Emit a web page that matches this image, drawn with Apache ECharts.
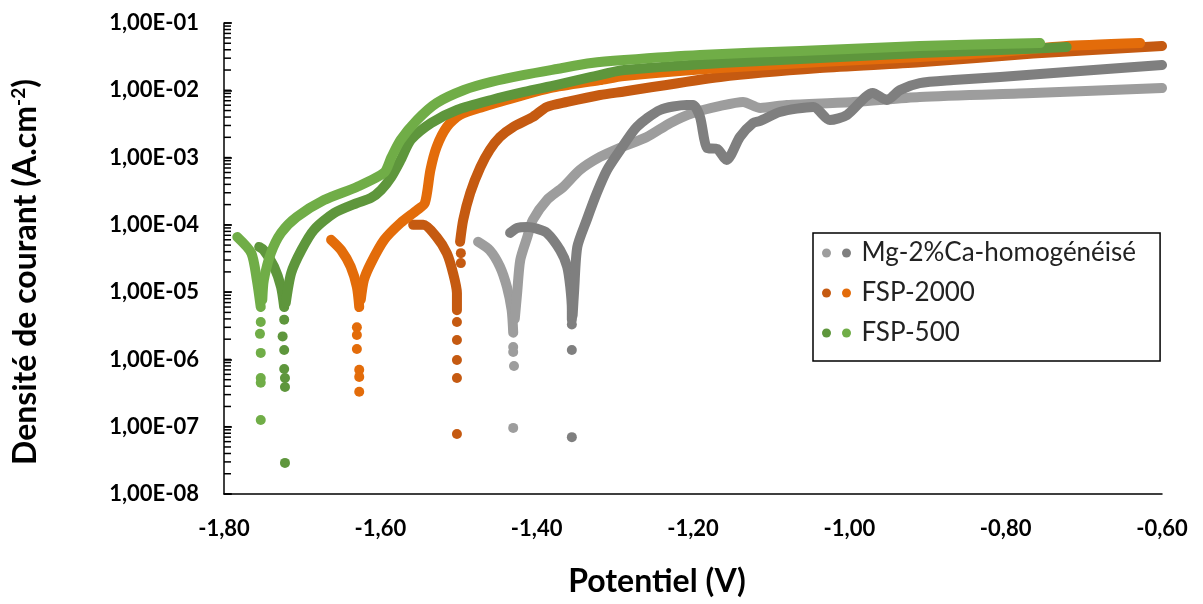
<!DOCTYPE html>
<html><head><meta charset="utf-8">
<script src="https://cdn.jsdelivr.net/npm/echarts@6/dist/echarts.min.js"></script>
<style>html,body{margin:0;padding:0;background:#fff}#c{width:1203px;height:604px}</style>
</head><body><div id="c"></div>
<script>
// ---- tick labels ----
const xTickLabels = ['-1,80','-1,60','-1,40','-1,20','-1,00','-0,80','-0,60'];
const yTickLabels = ['1,00E-08','1,00E-07','1,00E-06','1,00E-05','1,00E-04','1,00E-03','1,00E-02','1,00E-01'];
const legendLabels = ['Mg-2%Ca-homogénéisé','FSP-2000','FSP-500'];
const xTitle = 'Potentiel (V)';
const yTitle = 'Densité de courant (A.cm';
const yTitleSup = '-2';

// ---- Mg-2%Ca-homogénéisé, light grey ----
const mgLightCathodic = [[-1.475,5.6e-5],[-1.460,4.2e-5],[-1.447,2.4e-5],[-1.438,1.19e-5],[-1.432,5.4e-6],[-1.430,2.5e-6]];
const mgLightAnodic = [[-1.428,4.0e-6],[-1.425,9.7e-6],[-1.421,3.0e-5],[-1.412,6.6e-5],[-1.405,1.18e-4],[-1.387,2.34e-4],[-1.366,3.66e-4],[-1.345,6.5e-4],[-1.319,1.02e-3],[-1.293,1.40e-3],[-1.259,2.02e-3],[-1.229,3.27e-3],[-1.200,4.60e-3],[-1.165,5.85e-3],[-1.136,6.70e-3],[-1.114,5.46e-3],[-1.080,6.05e-3],[-0.995,6.70e-3],[-0.910,7.95e-3],[-0.765,9.12e-3],[-0.600,1.08e-2]];
const mgLightDots = [[-1.430,1.53e-6],[-1.430,1.29e-6],[-1.429,8.0e-7],[-1.430,9.6e-8]];
// ---- Mg-2%Ca-homogénéisé, dark grey ----
const mgDarkCathodic = [[-1.434,7.6e-5],[-1.425,9.0e-5],[-1.412,9.3e-5],[-1.400,8.8e-5],[-1.387,7.6e-5],[-1.370,4.2e-5],[-1.361,2.4e-5],[-1.357,1.19e-5],[-1.355,5.4e-6],[-1.355,3.9e-6]];
const mgDarkAnodic = [[-1.354,4.5e-6],[-1.352,1.08e-5],[-1.348,4.7e-5],[-1.336,1.18e-4],[-1.323,2.98e-4],[-1.310,6.5e-4],[-1.293,1.30e-3],[-1.272,2.85e-3],[-1.242,5.10e-3],[-1.208,6.05e-3],[-1.200,6.05e-3],[-1.191,4.01e-3],[-1.182,1.39e-3],[-1.169,1.34e-3],[-1.157,9.2e-4],[-1.140,2.02e-3],[-1.123,3.27e-3],[-1.114,3.5e-3],[-1.089,4.76e-3],[-1.046,5.65e-3],[-1.025,3.62e-3],[-1.003,4.30e-3],[-0.970,9.12e-3],[-0.952,7.18e-3],[-0.935,1.01e-2],[-0.910,1.28e-2],[-0.867,1.42e-2],[-0.807,1.58e-2],[-0.722,1.87e-2],[-0.600,2.38e-2]];
const mgDarkDots = [[-1.355,3.3e-6],[-1.355,1.38e-6],[-1.355,7.0e-8]];
// ---- FSP-2000, dark orange ----
const fsp2000DarkCathodic = [[-1.558,1.0e-4],[-1.545,1.0e-4],[-1.528,6.6e-5],[-1.515,3.8e-5],[-1.507,1.93e-5],[-1.502,9.7e-6],[-1.502,5.4e-6]];
const fsp2000DarkAnodic = [[-1.498,5.6e-5],[-1.494,1.18e-4],[-1.485,2.98e-4],[-1.472,7.2e-4],[-1.460,1.30e-3],[-1.447,2.02e-3],[-1.430,2.85e-3],[-1.405,4.01e-3],[-1.387,5.65e-3],[-1.361,6.70e-3],[-1.319,8.5e-3],[-1.288,9.6e-3],[-1.165,1.58e-2],[-1.038,2.14e-2],[-0.910,2.6e-2],[-0.765,3.52e-2],[-0.600,4.55e-2]];
const fsp2000DarkDots = [[-1.497,3.8e-5],[-1.497,2.7e-5],[-1.502,3.6e-6],[-1.502,1.95e-6],[-1.502,9.8e-7],[-1.502,5.3e-7],[-1.502,7.8e-8]];
// ---- FSP-2000, light orange ----
const fsp2000LightCathodic = [[-1.663,6.0e-5],[-1.650,4.2e-5],[-1.638,2.4e-5],[-1.630,1.19e-5],[-1.627,6.0e-6]];
const fsp2000LightAnodic = [[-1.625,7.7e-6],[-1.621,1.52e-5],[-1.612,2.7e-5],[-1.595,6.0e-5],[-1.574,1.07e-4],[-1.553,1.66e-4],[-1.543,2.11e-4],[-1.536,6.5e-4],[-1.528,1.44e-3],[-1.515,2.85e-3],[-1.498,4.30e-3],[-1.469,5.65e-3],[-1.425,7.95e-3],[-1.383,1.08e-2],[-1.319,1.42e-2],[-1.288,1.63e-2],[-1.165,2.14e-2],[-1.038,2.63e-2],[-0.910,3.13e-2],[-0.807,3.71e-2],[-0.722,4.55e-2],[-0.628,5.04e-2]];
const fsp2000LightDots = [[-1.630,3.0e-6],[-1.630,2.3e-6],[-1.630,1.43e-6],[-1.627,7.0e-7],[-1.627,5.5e-7],[-1.627,3.3e-7]];
// ---- FSP-500, dark green ----
const fsp500DarkCathodic = [[-1.755,4.7e-5],[-1.749,4.2e-5],[-1.736,2.4e-5],[-1.727,1.19e-5],[-1.723,6.0e-6]];
const fsp500DarkAnodic = [[-1.721,6.9e-6],[-1.714,1.93e-5],[-1.701,4.2e-5],[-1.685,8.4e-5],[-1.659,1.50e-4],[-1.630,2.11e-4],[-1.612,2.51e-4],[-1.599,3.30e-4],[-1.586,5.15e-4],[-1.574,9.2e-4],[-1.561,1.83e-3],[-1.535,3.27e-3],[-1.502,5.10e-3],[-1.458,7.18e-3],[-1.416,9.44e-3],[-1.374,1.20e-2],[-1.330,1.58e-2],[-1.288,2.00e-2],[-1.165,2.54e-2],[-1.038,3.02e-2],[-0.910,3.58e-2],[-0.807,3.97e-2],[-0.722,4.40e-2]];
const fsp500DarkDots = [[-1.723,3.9e-6],[-1.725,2.2e-6],[-1.723,1.38e-6],[-1.723,7.2e-7],[-1.722,5.3e-7],[-1.722,3.9e-7],[-1.722,2.9e-8]];
// ---- FSP-500, light green ----
const fsp500LightCathodic = [[-1.783,6.6e-5],[-1.765,3.8e-5],[-1.758,1.52e-5],[-1.753,6.0e-6]];
const fsp500LightAnodic = [[-1.751,7.7e-6],[-1.749,1.52e-5],[-1.740,3.8e-5],[-1.727,7.6e-5],[-1.707,1.31e-4],[-1.672,2.34e-4],[-1.630,3.66e-4],[-1.595,6.0e-4],[-1.586,1.0e-3],[-1.574,1.83e-3],[-1.553,3.62e-3],[-1.528,6.48e-3],[-1.493,1.01e-2],[-1.458,1.33e-2],[-1.416,1.69e-2],[-1.374,2.07e-2],[-1.330,2.54e-2],[-1.288,2.82e-2],[-1.191,3.35e-2],[-1.063,3.84e-2],[-0.910,4.55e-2],[-0.756,5.04e-2]];
const fsp500LightDots = [[-1.753,3.6e-6],[-1.754,2.4e-6],[-1.753,1.25e-6],[-1.753,5.3e-7],[-1.753,4.5e-7],[-1.753,1.26e-7]];

// ---- build ----
const FONT = 'Lato, "Open Sans", sans-serif';
const X_MIN = -1.8, X_MAX = -0.6, X_STEP = 0.2;
const Y_MIN = 1e-8, Y_MAX = 1e-1;

const groups = [
  {name: legendLabels[0] + ' (clair)', color: '#9D9D9D', parts: [mgLightCathodic, mgLightAnodic], dots: mgLightDots},
  {name: legendLabels[0], color: '#7F7F7F', parts: [mgDarkCathodic, mgDarkAnodic], dots: mgDarkDots},
  {name: legendLabels[1] + ' (foncé)', color: '#C55A11', parts: [fsp2000DarkCathodic, fsp2000DarkAnodic], dots: fsp2000DarkDots},
  {name: legendLabels[1], color: '#E36C0A', parts: [fsp2000LightCathodic, fsp2000LightAnodic], dots: fsp2000LightDots},
  {name: legendLabels[2] + ' (foncé)', color: '#5E963C', parts: [fsp500DarkCathodic, fsp500DarkAnodic], dots: fsp500DarkDots},
  {name: legendLabels[2], color: '#70AD47', parts: [fsp500LightCathodic, fsp500LightAnodic], dots: fsp500LightDots}
];

const series = [];
groups.forEach((g, gi) => {
  g.parts.forEach(p => series.push({
    type: 'line', name: g.name, data: p, symbol: 'none', showSymbol: false, smooth: 0.25,
    lineStyle: {color: g.color, width: 10, cap: 'round', join: 'round'},
    itemStyle: {color: g.color}, silent: true, z: 2 + gi, animation: false
  }));
  series.push({
    type: 'scatter', name: g.name, data: g.dots, symbol: 'circle', symbolSize: 10,
    itemStyle: {color: g.color, opacity: 1}, silent: true, z: 2 + gi, animation: false
  });
});

// log tick values on the y axis (1..9 of each decade)
const logTickValues = [];
for (let e = -8; e < -1; e++) for (let m = 1; m <= 9; m++) logTickValues.push(m * Math.pow(10, e));
logTickValues.push(Y_MAX);

const legendCommon = {
  orient: 'vertical', top: 233, icon: 'circle', itemWidth: 20, itemHeight: 9, itemGap: 14,
  textStyle: {fontFamily: FONT, fontSize: 26, color: '#222', lineHeight: 24},
  selectedMode: false
};

const titleGraphics = [
  {type: 'text', x: 657, y: 582, style: {text: xTitle, fill: '#000', font: 'bold 32px ' + FONT, align: 'center', verticalAlign: 'middle'}},
  {type: 'text', x: 26, y: 272, rotation: Math.PI / 2,
    style: {text: '{a|' + yTitle + '}{s|' + yTitleSup + '}{a|)}', align: 'center', verticalAlign: 'middle',
      rich: {a: {fill: '#000', fontFamily: FONT, fontWeight: 'bold', fontSize: 32, lineHeight: 34},
             s: {fill: '#000', fontFamily: FONT, fontWeight: 'bold', fontSize: 19, verticalAlign: 'top', lineHeight: 34}}}}
];

const option = {
  backgroundColor: '#fff',
  animation: false,
  grid: {left: 224, right: 41, top: 23, bottom: 110, containLabel: false},
  xAxis: {
    type: 'value', min: X_MIN, max: X_MAX, interval: X_STEP,
    axisLine: {onZero: false, lineStyle: {color: '#000', width: 1.5}},
    axisTick: {show: false}, splitLine: {show: false},
    axisLabel: {margin: 24, color: '#000', fontFamily: FONT, fontWeight: 'bold', fontSize: 22,
      formatter: v => xTickLabels[Math.round((v - X_MIN) / X_STEP)]}
  },
  yAxis: {
    type: 'log', logBase: 10, min: Y_MIN, max: Y_MAX, splitNumber: 7,
    axisLine: {show: true, lineStyle: {color: '#000', width: 1.5}},
    axisTick: {show: true, inside: true, length: 8, lineStyle: {color: '#000', width: 1.5}},
    splitLine: {show: false},
    axisLabel: {margin: 25, color: '#000', fontFamily: FONT, fontWeight: 'bold', fontSize: 22,
      formatter: v => yTickLabels[Math.round(Math.log10(v)) + 8]}
  },
  legend: [
    Object.assign({}, legendCommon, {
      left: 822, padding: [7, 0, 15, 0],
      data: groups.filter((g, i) => [0, 2, 4].includes(i)).map(g => g.name),
      formatter: () => ' '
    }),
    Object.assign({}, legendCommon, {
      left: 813, padding: [7, 24, 15, 29], borderColor: '#000', borderWidth: 1.5,
      data: groups.filter((g, i) => [1, 3, 5].includes(i)).map(g => g.name)
    })
  ],
  graphic: titleGraphics,
  series: series
};

const chart = echarts.init(document.getElementById('c'));
chart.setOption(option);

// y-axis log ticks, positioned through the chart's own axis scales
const x0 = chart.convertToPixel({xAxisIndex: 0}, X_MIN);
const tickGraphics = logTickValues.map(v => {
  const py = chart.convertToPixel({yAxisIndex: 0}, v);
  return {type: 'line', z: 100, silent: true,
    shape: {x1: x0, y1: py, x2: x0 + 7, y2: py}, style: {stroke: '#000', lineWidth: 1.5}};
});
chart.setOption({graphic: titleGraphics.concat(tickGraphics)});
</script></body></html>
